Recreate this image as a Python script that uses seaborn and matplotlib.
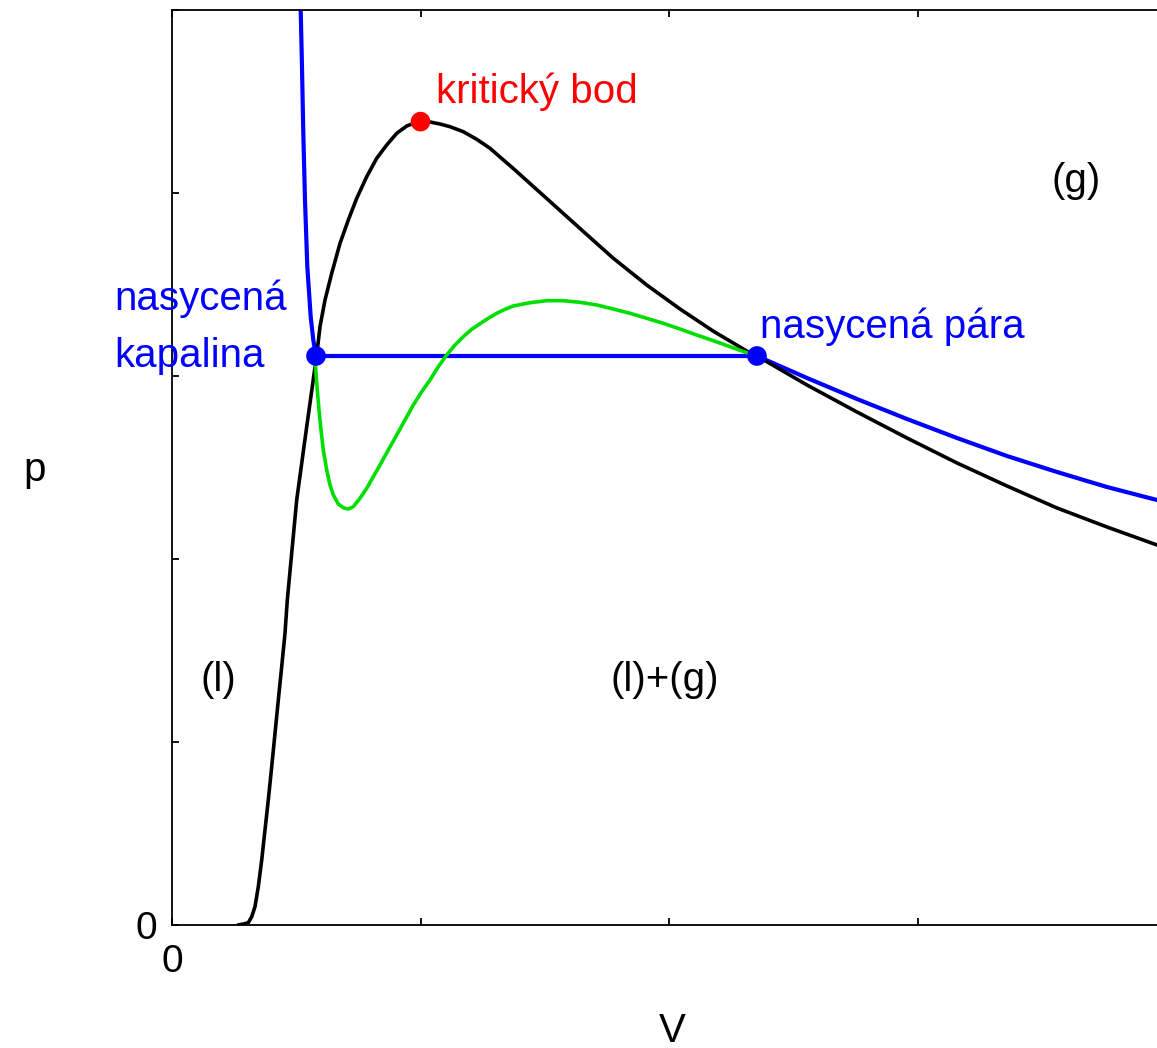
import matplotlib
matplotlib.use("Agg")
import matplotlib.pyplot as plt
import seaborn as sns

# black curve (boundary of the two-phase region, with critical point at top)
black_v = [0.2656, 0.2869, 0.3070, 0.3207, 0.3340, 0.3473, 0.3610, 0.3742, 0.3875,
           0.4012, 0.4145, 0.4278, 0.4414, 0.4547, 0.4640, 0.5018, 0.5421, 0.5823,
           0.5956, 0.6157, 0.6427, 0.6761, 0.7095, 0.7433, 0.7835, 0.8237, 0.8640,
           0.9042, 0.9445, 0.9847, 1.0089, 1.0382, 1.0785, 1.1187, 1.1722, 1.2262,
           1.2797, 1.3199, 1.3734, 1.5078, 1.6419, 1.7746, 1.9103, 2.0443, 2.1771,
           2.3260, 2.3541, 2.5553, 2.7565, 2.9577, 3.1590, 3.3602, 3.5614, 3.7626,
           3.9638, 4.016]
black_p = [0.0, 0.0055, 0.0126, 0.0454, 0.1000, 0.2093, 0.3552, 0.5191, 0.6831,
           0.8650, 1.0475, 1.2295, 1.4115, 1.5940, 1.7760, 2.3224, 2.7230, 3.1148,
           3.2694, 3.4153, 3.5612, 3.7251, 3.8525, 3.9710, 4.0891, 4.1896, 4.2623,
           4.3262, 4.3661, 4.3863, 4.3918, 4.3880, 4.3770, 4.3623, 4.3350, 4.2934,
           4.2443, 4.1967, 4.1339, 3.9699, 3.8060, 3.6448, 3.4973, 3.3661, 3.2459,
           3.1257, 3.1093, 2.9508, 2.8033, 2.6612, 2.5246, 2.3989, 2.2787, 2.1749,
           2.0765, 2.049]

# blue isotherm: liquid branch, plateau, gas branch
blue_v = [0.5131, 0.5179, 0.5231, 0.5284, 0.5352, 0.5445, 0.5581, 0.5686, 0.5795,
          2.3541, 2.5553, 2.7565, 2.9577, 3.1590, 3.3602, 3.5614, 3.7626, 3.9638, 4.0161]
blue_p = [5.164, 5.000, 4.6902, 4.3262, 3.9617, 3.5973, 3.3240, 3.1967, 3.1093,
          3.1093, 2.9891, 2.8743, 2.7650, 2.6612, 2.5628, 2.4754, 2.3934, 2.3224, 2.306]

# green van der Waals loop
green_v = [0.5755, 0.5795, 0.5847, 0.5915, 0.5996, 0.6089, 0.6225, 0.6358, 0.6491,
           0.6692, 0.6893, 0.7095, 0.7296, 0.7565, 0.7835, 0.8101, 0.8370, 0.8704,
           0.9042, 0.9376, 0.9710, 1.0048, 1.0382, 1.0716, 1.1054, 1.1388, 1.1722,
           1.2060, 1.2394, 1.2728, 1.3066, 1.3400, 1.3734, 1.4406, 1.5078, 1.5746,
           1.6419, 1.7091, 1.7759, 1.8431, 1.9103, 1.9771, 2.0443, 2.1115, 2.1783,
           2.2455, 2.3127, 2.3541]
green_p = [3.1055, 3.0148, 2.9235, 2.8142, 2.7049, 2.5956, 2.4863, 2.4044, 2.3497,
           2.3005, 2.2803, 2.2732, 2.2858, 2.3317, 2.3863, 2.4497, 2.5137, 2.5956,
           2.6776, 2.7596, 2.8415, 2.9142, 2.9781, 3.0508, 3.1148, 3.1694, 3.2148,
           3.2552, 3.2858, 3.3153, 3.3426, 3.3645, 3.3825, 3.4005, 3.4115, 3.4115,
           3.4027, 3.3880, 3.3661, 3.3426, 3.3153, 3.2880, 3.2568, 3.2240, 3.1929,
           3.1601, 3.1273, 3.1093]

crit_v, crit_p = [1.0], [4.39]
sat_v, sat_p = [0.5795, 2.3541], [3.1093, 3.1093]

sns.set_theme(style="ticks", rc={'text.color': 'black', 'axes.labelcolor': 'black',
                                 'xtick.color': 'black', 'ytick.color': 'black',
                                 'axes.edgecolor': 'black'})
plt.rcParams['font.family'] = ['Liberation Sans', 'DejaVu Sans']
FS = 29

fig = plt.figure(figsize=(11.57, 10.48), dpi=100)
ax = fig.add_axes([172 / 1157, 123 / 1048, 994 / 1157, 915 / 1048])

sns.lineplot(x=blue_v, y=blue_p, sort=False, estimator=None, color='#0000ff', lw=3.0, ax=ax)
sns.lineplot(x=black_v, y=black_p, sort=False, estimator=None, color='black', lw=2.6, ax=ax)
sns.lineplot(x=green_v, y=green_p, sort=False, estimator=None, color='#00dd00', lw=2.6, ax=ax)
sns.scatterplot(x=crit_v, y=crit_p, color='#ff0000', s=200, edgecolor='none', zorder=5, ax=ax)
sns.scatterplot(x=sat_v, y=sat_p, color='#0000ff', s=200, edgecolor='none', zorder=5, ax=ax)

ax.set_xlim(0, 4)
ax.set_ylim(0, 5)
ax.set_xticks([0, 1, 2, 3, 4])
ax.set_xticklabels(['0', '', '', '', ''])
ax.set_yticks([0, 1, 2, 3, 4, 5])
ax.set_yticklabels(['0', '', '', '', '', ''])
ax.tick_params(direction='in', top=True, right=True, length=5, width=1.3,
               labelsize=28, colors='black')
ax.tick_params(axis='x', pad=14)
ax.tick_params(axis='y', pad=11)
for s in ax.spines.values():
    s.set_linewidth(1.3)
    s.set_color('black')

ax.text(0.503, -0.116, 'V', transform=ax.transAxes, ha='center', va='center', fontsize=FS)
ax.text(-0.138, 0.497, 'p', transform=ax.transAxes, ha='center', va='center', fontsize=FS)

ax.text(1.062, 4.492, 'kritický bod', color='#ff0000', fontsize=FS, va='baseline')
ax.text(3.638, 4.066, '(g)', fontsize=FS, ha='center', va='center')
ax.text(-0.233, 3.361, 'nasycená', color='#0000ff', fontsize=FS, va='baseline')
ax.text(-0.233, 3.049, 'kapalina', color='#0000ff', fontsize=FS, va='baseline')
ax.text(2.366, 3.208, 'nasycená pára', color='#0000ff', fontsize=FS, va='baseline')
ax.text(0.185, 1.339, '(l)', fontsize=FS, ha='center', va='center')
ax.text(1.984, 1.339, '(l)+(g)', fontsize=FS, ha='center', va='center')

fig.savefig('out.png', dpi=100)
